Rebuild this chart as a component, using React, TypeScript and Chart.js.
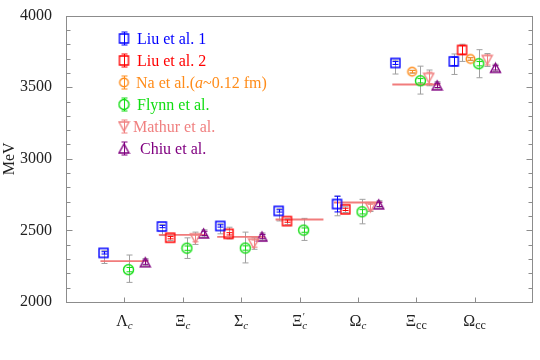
import React, { useEffect, useRef } from 'react';
import { Chart, registerables } from 'chart.js';

Chart.register(...registerables);

// ---------- data ----------
const labelBase = ['Λ', 'Ξ', 'Σ', 'Ξ', 'Ω', 'Ξ', 'Ω'];
const labelSub = ['c', 'c', 'c', 'c', 'c', 'cc', 'cc'];
const labelPrime = [false, false, false, true, false, false, false];

const expMass = [2286, 2469, 2455, 2576, 2695, 3519, null];

const liu1Mass = [2343, 2527, 2531, 2636, 2684, 3669, 3680];
const liu1Stat = [8, 8, 8, 8, 55, 10, 30];
const liu1Up = [15, 15, 15, 15, 55, 20, 52];
const liu1Down = [74, 63, 55, 70, 82, 77, 91];

const liu2Mass = [null, 2449, 2476, 2565, 2647, null, 3760];
const liu2Stat = [null, 8, 8, 8, 8, null, 30];
const liu2Up = [null, 18, 46, 18, 18, null, 40];
const liu2Down = [null, 20, 35, 25, 22, null, 80];

const naMass = [null, null, null, null, null, 3608, 3697];
const naStat = [null, null, null, null, null, 8, 8];
const naUp = [null, null, null, null, null, 10, 10];
const naDown = [null, null, null, null, null, 10, 10];

const flynnMass = [2226, 2376, 2377, 2502, 2630, 3545, 3664];
const flynnStat = [15, 15, 15, 15, 15, 15, 15];
const flynnUp = [102, 72, 111, 82, 87, 102, 98];
const flynnDown = [89, 72, 104, 72, 84, 93, 98];

const mathurMass = [null, 2445, 2408, null, 2662, 3565, 3690];
const mathurStat = [null, 25, 25, null, 20, 40, 35];
const mathurUp = [null, 43, 40, null, 30, 55, 45];
const mathurDown = [null, 43, 40, null, 30, 55, 45];

const chiuMass = [2278, 2479, 2457, null, 2682, 3513, 3635];
const chiuStat = [15, 15, 15, null, 15, 15, 15];
const chiuUp = [25, 25, 25, null, 25, 25, 25];
const chiuDown = [25, 25, 25, null, 25, 25, 25];

type Shape = 'square' | 'circle' | 'circleSmall' | 'triUp' | 'triDown';
interface Series {
  label: string; color: string; shape: Shape; slot: number;
  mass: (number | null)[]; stat: (number | null)[]; up: (number | null)[]; down: (number | null)[];
}

const series: Series[] = [
  { label: 'Liu et al. 1', color: '#0000ff', shape: 'square', slot: -2.5, mass: liu1Mass, stat: liu1Stat, up: liu1Up, down: liu1Down },
  { label: 'Liu et al. 2', color: '#ff0000', shape: 'square', slot: -1.5, mass: liu2Mass, stat: liu2Stat, up: liu2Up, down: liu2Down },
  { label: 'Na et al.', color: '#ff8c1a', shape: 'circleSmall', slot: -0.5, mass: naMass, stat: naStat, up: naUp, down: naDown },
  { label: 'Flynn et al.', color: '#11dd11', shape: 'circle', slot: 0.5, mass: flynnMass, stat: flynnStat, up: flynnUp, down: flynnDown },
  { label: 'Mathur et al.', color: '#f08080', shape: 'triDown', slot: 1.5, mass: mathurMass, stat: mathurStat, up: mathurUp, down: mathurDown },
  { label: 'Chiu et al.', color: '#800080', shape: 'triUp', slot: 2.5, mass: chiuMass, stat: chiuStat, up: chiuUp, down: chiuDown },
];

// ---------- style ----------
const SLOT = 0.143;
const EXP_HALF = 0.41;
const SERIF = '"Liberation Serif", "Times New Roman", serif';
const GREY = '#a0a0a0';
const FRAME = '#8c8c8c';

function makeMarker(shape: Shape, color: string): HTMLCanvasElement {
  const c = document.createElement('canvas');
  const size = 13;
  c.width = size; c.height = size;
  const g = c.getContext('2d')!;
  g.strokeStyle = color;
  g.lineWidth = 1.4;
  g.beginPath();
  if (shape === 'square') {
    g.rect(2, 2, 9, 9);
  } else if (shape === 'circle') {
    g.arc(6.5, 6.5, 5, 0, Math.PI * 2);
  } else if (shape === 'circleSmall') {
    g.arc(6.5, 6.5, 4.3, 0, Math.PI * 2);
  } else if (shape === 'triUp') {
    g.moveTo(6.5, 2); g.lineTo(1.5, 11); g.lineTo(11.5, 11); g.closePath();
  } else {
    g.moveTo(1.5, 2); g.lineTo(11.5, 2); g.lineTo(6.5, 11); g.closePath();
  }
  g.stroke();
  return c;
}

function vbar(ctx: CanvasRenderingContext2D, x: number, y1: number, y2: number, cap: number) {
  ctx.beginPath();
  ctx.moveTo(x, y1); ctx.lineTo(x, y2);
  ctx.moveTo(x - cap, y1); ctx.lineTo(x + cap, y1);
  ctx.moveTo(x - cap, y2); ctx.lineTo(x + cap, y2);
  ctx.stroke();
}

export default function App() {
  const ref = useRef<HTMLCanvasElement>(null);

  useEffect(() => {
    const canvas = ref.current!;
    const markers = series.map((s) => makeMarker(s.shape, s.color));

    const xOf = (i: number, s: Series) => i + 1 + s.slot * SLOT;

    const expData: { x: number; y: number }[] = [];
    expMass.forEach((m, i) => {
      if (m == null) return;
      expData.push({ x: i + 1 - EXP_HALF, y: m }, { x: i + 1 + EXP_HALF, y: m }, { x: i + 1.5, y: NaN });
    });

    const datasets: any[] = series.map((s, k) => ({
      label: s.label,
      data: s.mass
        .map((m, i) => (m == null ? null : { x: xOf(i, s), y: m }))
        .filter((p) => p != null),
      pointStyle: markers[k],
      pointRadius: 6,
      showLine: false,
      order: 1,
    }));
    datasets.push({
      label: 'exp',
      data: expData,
      showLine: true,
      borderColor: 'rgba(240,110,110,0.9)',
      borderWidth: 1.8,
      pointRadius: 0,
      spanGaps: false,
      order: 10,
    });

    const framePlugin = {
      id: 'framePlugin',
      beforeDatasetsDraw(chart: any) {
        const { ctx, chartArea: a, scales } = chart;
        const ys = scales.y, xs = scales.x;
        ctx.save();
        ctx.strokeStyle = FRAME;
        ctx.lineWidth = 1;
        const L = Math.round(a.left) + 0.5, R = Math.round(a.right) - 0.5;
        const T = Math.round(a.top) + 0.5, B = Math.round(a.bottom) + 0.5;
        ctx.strokeRect(L, T, R - L, B - T);
        ctx.beginPath();
        for (let v = 2000; v <= 4000; v += 100) {
          const y = Math.round(ys.getPixelForValue(v)) + 0.5;
          const len = v % 500 === 0 ? 6 : 4;
          ctx.moveTo(L, y); ctx.lineTo(L + len, y);
          ctx.moveTo(R, y); ctx.lineTo(R - len, y);
        }
        for (let i = 0; i < labelBase.length; i++) {
          const x = Math.round(xs.getPixelForValue(i + 1)) + 0.5;
          ctx.moveTo(x, B); ctx.lineTo(x, B - 5);
        }
        ctx.stroke();

        // grey (total) error bars
        ctx.strokeStyle = GREY;
        series.forEach((s) => {
          s.mass.forEach((m, i) => {
            if (m == null) return;
            const x = Math.round(xs.getPixelForValue(xOf(i, s))) + 0.5;
            const y1 = ys.getPixelForValue(m + (s.up[i] as number));
            const y2 = ys.getPixelForValue(m - (s.down[i] as number));
            vbar(ctx, x, y1, y2, 3);
          });
        });
        ctx.restore();
      },
      afterDatasetsDraw(chart: any) {
        const { ctx, scales } = chart;
        const ys = scales.y, xs = scales.x;
        ctx.save();
        ctx.lineWidth = 1;
        series.forEach((s) => {
          ctx.strokeStyle = s.color;
          s.mass.forEach((m, i) => {
            if (m == null) return;
            const x = Math.round(xs.getPixelForValue(xOf(i, s))) + 0.5;
            const y1 = ys.getPixelForValue(m + (s.stat[i] as number));
            const y2 = ys.getPixelForValue(m - (s.stat[i] as number));
            vbar(ctx, x, y1, y2, 3);
          });
        });
        ctx.restore();
      },
      afterDraw(chart: any) {
        const { ctx, scales } = chart;
        const xs = scales.x;
        ctx.save();
        ctx.fillStyle = '#222';
        ctx.textBaseline = 'alphabetic';
        ctx.textAlign = 'left';
        // category labels
        for (let i = 0; i < labelBase.length; i++) {
          const cx = xs.getPixelForValue(i + 1);
          ctx.font = `16px ${SERIF}`;
          const bw = ctx.measureText(labelBase[i]).width;
          const subFont = labelSub[i] === 'c' ? `italic 11px ${SERIF}` : `12px ${SERIF}`;
          ctx.font = subFont;
          const sw = ctx.measureText(labelSub[i]).width;
          const x0 = cx - (bw + sw) / 2;
          ctx.font = `16px ${SERIF}`;
          ctx.fillText(labelBase[i], x0, 325.5);
          ctx.font = subFont;
          ctx.fillText(labelSub[i], x0 + bw, 329);
          if (labelPrime[i]) {
            ctx.font = `10px ${SERIF}`;
            ctx.fillText('′', x0 + bw + 0.5, 320);
          }
        }
        // legend
        const lx = 124, ly0 = 38.5, step = 22;
        const textX = [137, 137, 136, 137, 133, 140];
        series.forEach((s, k) => {
          const y = ly0 + k * step;
          ctx.drawImage(markers[k], lx - 6.5, y - 6.5);
          ctx.strokeStyle = s.color;
          ctx.lineWidth = 1;
          vbar(ctx, lx + 0.5, y - 6.5, y + 6.5, 3);
          ctx.fillStyle = s.color;
          ctx.font = `16px ${SERIF}`;
          const tx = textX[k];
          if (k === 2) {
            const p1 = 'Na et al.(';
            ctx.fillText(p1, tx, y + 5.5);
            let w = ctx.measureText(p1).width;
            ctx.font = `italic 16px ${SERIF}`;
            ctx.fillText('a', tx + w, y + 5.5);
            w += ctx.measureText('a').width;
            ctx.font = `16px ${SERIF}`;
            ctx.fillText('~0.12 fm)', tx + w, y + 5.5);
          } else {
            ctx.fillText(s.label, tx, y + 5.5);
          }
        });
        ctx.restore();
      },
    };

    const chart = new Chart(canvas, {
      type: 'scatter',
      data: { datasets },
      options: {
        animation: false,
        responsive: false,
        layout: { padding: { left: 0, right: 0, top: 9, bottom: 58 } },
        plugins: { legend: { display: false }, tooltip: { enabled: false } },
        scales: {
          x: { type: 'linear', min: 0, max: 8, display: false },
          y: {
            type: 'linear',
            min: 2000,
            max: 4000,
            afterFit: (s: any) => { s.width = 66; },
            ticks: {
              stepSize: 500,
              color: '#222',
              padding: 6,
              font: { family: SERIF, size: 16 },
              callback: (v: any) => String(v),
            },
            grid: { display: false },
            border: { display: false },
            title: { display: true, text: 'MeV', color: '#222', padding: { top: 0, bottom: 0 }, font: { family: SERIF, size: 16 } },
          },
        },
      },
      plugins: [framePlugin],
    } as any);

    return () => chart.destroy();
  }, []);

  return (
    <div style={{ position: 'absolute', left: 0, top: 0, width: 540, height: 360, background: '#fff' }}>
      <canvas ref={ref} width={540} height={360} style={{ display: 'block', width: 540, height: 360 }} />
    </div>
  );
}
